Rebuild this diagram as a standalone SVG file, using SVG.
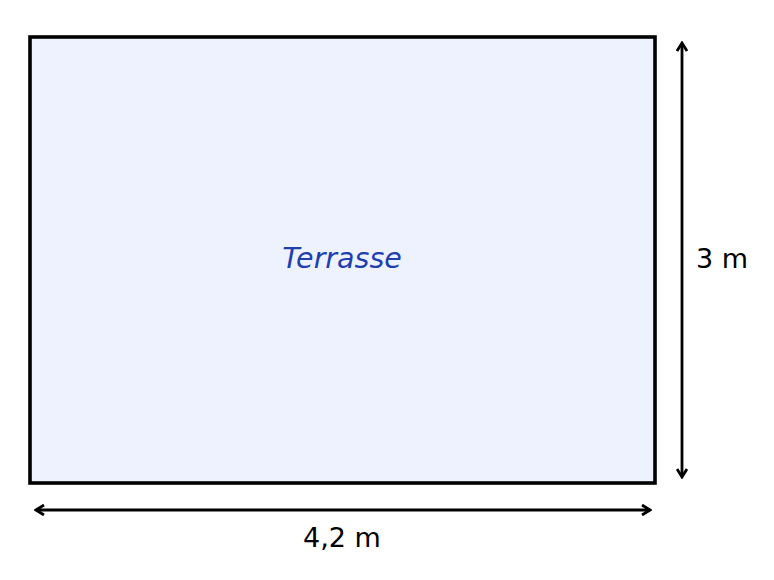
<svg xmlns="http://www.w3.org/2000/svg" width="774" height="580" viewBox="0 0 774 580">
<style>
.lbl{font-family:"DejaVu Sans",sans-serif;font-size:27px;fill:#000;}
.room{font-family:"DejaVu Sans",sans-serif;font-size:28.5px;font-style:italic;fill:#1e40af;}
.dim{stroke:#000;stroke-width:2.8;fill:none;}
</style>
<defs>
<marker id="ah" viewBox="-10 -6 12 12" refX="0" refY="0" markerWidth="12" markerHeight="12" markerUnits="userSpaceOnUse" orient="auto-start-reverse">
<path d="M-8,-5 L0,0 L-8,5" fill="none" stroke="#000" stroke-width="2.8" stroke-linejoin="miter"/>
</marker>
</defs>
<rect width="774" height="580" fill="#fff"/>
<g id="terrasse">
<rect x="30" y="37" width="625" height="446" fill="#eef2ff" stroke="#000" stroke-width="3.6"/>
<text class="room" x="342" y="258" text-anchor="middle" dominant-baseline="central">Terrasse</text>
</g>
<g id="connectors">
<line class="dim" x1="682" y1="43" x2="682" y2="477" marker-start="url(#ah)" marker-end="url(#ah)"/>
<line class="dim" x1="36" y1="510" x2="650" y2="510" marker-start="url(#ah)" marker-end="url(#ah)"/>
</g>
<g id="labels">
<text class="lbl" x="722" y="258" text-anchor="middle" dominant-baseline="central">3 m</text>
<text class="lbl" x="342" y="537" text-anchor="middle" dominant-baseline="central">4,2 m</text>
</g>
</svg>
